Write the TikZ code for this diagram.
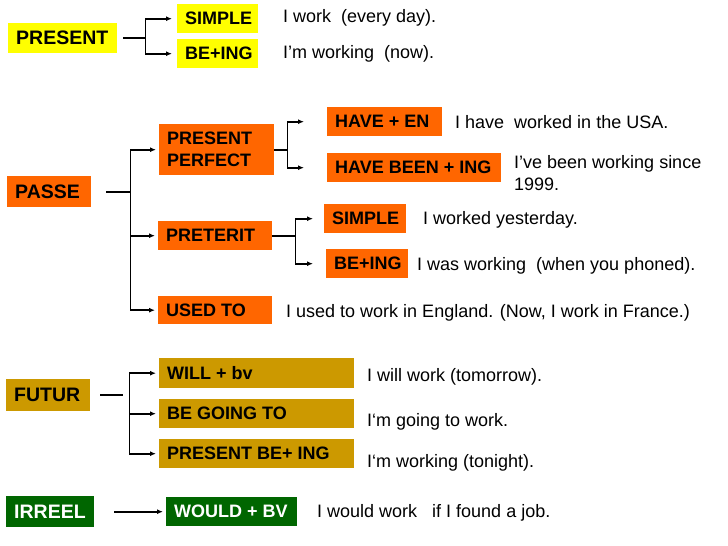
\documentclass[tikz,border=0pt]{standalone}
\usepackage{fontspec}
\setmainfont{Liberation Sans}
\usetikzlibrary{arrows.meta}
\definecolor{cyel}{HTML}{FFFF00}
\definecolor{corg}{HTML}{FF6600}
\definecolor{cgold}{HTML}{CC9900}
\definecolor{cgrn}{HTML}{006600}
\newcommand\mylbox[2]{\makebox[#1][l]{#2}}
\begin{document}
\begin{tikzpicture}[x=1pt,y=-1pt,
  bx/.style={anchor=north west, inner xsep=8pt, inner ysep=0pt,
    font=\bfseries\fontsize{18}{22}\selectfont, text=black},
  mainbx/.style={bx, font=\bfseries\fontsize{19.5}{23}\selectfont},
  yel/.style={fill=cyel}, org/.style={fill=corg}, gld/.style={fill=cgold},
  grn/.style={fill=cgrn, text=white},
  txt/.style={anchor=base west, inner sep=0pt, font=\fontsize{18}{22}\selectfont},
  ln/.style={line width=1.6pt},
  arr/.style={ln, -{Latex[length=6pt,width=5pt]}}]
\useasboundingbox (0,0) rectangle (728,546);

% boxes
\node[mainbx,yel,minimum height=30pt] (present) at (8,23) {\mylbox{93pt}{PRESENT}};
\node[bx,yel,minimum height=29pt] (simpleA) at (177,4) {\mylbox{65pt}{SIMPLE}};
\node[bx,yel,minimum height=29pt] (beingA) at (177,39) {\mylbox{65pt}{BE+ING}};

\node[mainbx,org,minimum height=31pt] (passe) at (7,176) {\mylbox{68pt}{PASSE}};
\node[bx,org,text width=99pt,align=left,minimum height=51pt] (pp) at (159,124) {PRESENT\\PERFECT};
\node[bx,org,minimum height=29pt] (pret) at (158,221) {\mylbox{98pt}{PRETERIT}};
\node[bx,org,minimum height=28pt] (used) at (158,296) {\mylbox{98pt}{USED TO}};
\node[bx,org,minimum height=29pt] (haveen) at (327,107) {\mylbox{99pt}{HAVE + EN}};
\node[bx,org,minimum height=29pt] (havebeen) at (327,153) {\mylbox{158pt}{HAVE BEEN + ING}};
\node[bx,org,minimum height=29pt] (simpleB) at (324,204) {\mylbox{66pt}{SIMPLE}};
\node[bx,org,minimum height=29pt] (beingB) at (326,249) {\mylbox{66pt}{BE+ING}};

\node[mainbx,gld,minimum height=32pt] (futur) at (6,379) {\mylbox{68pt}{FUTUR}};
\node[bx,gld,minimum height=30pt] (will) at (159,358) {\mylbox{179pt}{WILL + bv}};
\node[bx,gld,minimum height=29pt] (going) at (159,399) {\mylbox{179pt}{BE GOING TO}};
\node[bx,gld,minimum height=29pt] (presbe) at (159,439) {\mylbox{179pt}{PRESENT BE+ ING}};

\node[mainbx,grn,minimum height=31pt] (irreel) at (6,496) {\mylbox{72pt}{IRREEL}};
\node[bx,grn,minimum height=29pt] (would) at (166,497) {\mylbox{115pt}{WOULD + BV}};

% connectors: PRESENT
\coordinate (jA) at ([xshift=28pt]present.east);
\draw[ln] ([xshift=6pt]present.east) -- (jA);
\draw[arr,shorten >=5pt] (jA) |- (simpleA.west);
\draw[arr,shorten >=5pt] (jA) |- (beingA.west);

% PASSE
\coordinate (jB) at ([xshift=39pt]passe.east);
\draw[ln] ([xshift=15pt]passe.east) -- (jB);
\draw[arr,shorten >=3pt] (jB) |- (pp.west);
\draw[arr,shorten >=3pt] (jB) |- (pret.west);
\draw[arr,shorten >=3pt] (jB) |- (used.west);

% PRESENT PERFECT
\coordinate (jC) at ([xshift=13pt]pp.east);
\draw[ln] (pp.east) -- (jC);
\draw[arr,shorten >=23pt] (jC) |- (haveen.west);
\draw[arr,shorten >=23pt] (jC) |- (havebeen.west);

% PRETERIT
\coordinate (jD) at ([xshift=23pt]pret.east);
\draw[ln] (pret.east) -- (jD);
\draw[arr,shorten >=11pt] (jD) |- (simpleB.west);
\draw[arr,shorten >=13pt] (jD) |- (beingB.west);

% FUTUR
\coordinate (jE) at ([xshift=39pt]futur.east);
\draw[ln] ([xshift=10pt]futur.east) -- ([xshift=33pt]futur.east);
\draw[arr,shorten >=3pt] (jE) |- (will.west);
\draw[arr,shorten >=3pt] (jE) |- (going.west);
\draw[arr,shorten >=3pt] (jE) |- (presbe.west);

% IRREEL
\draw[arr,shorten >=3pt] ([xshift=20pt]irreel.east) -- (would.west);

% example sentences
\node[txt] (s1) at (283,23) {I work~ (every day).};
\node[txt] (s2) at (283,58) {I’m working~ (now).};
\node[txt] (s3) at (455,128) {I have~ worked in the USA.};
\node[txt] (s4) at (514,168) {I’ve been working since};
\node[txt] (s4b) at (514,190) {1999.};
\node[txt] (s5) at (423,224) {I worked yesterday.};
\node[txt] (s6) at (417,270) {I was working~ (when you phoned).};
\node[txt] (s7) at (286,317) {I used to work in England. (Now, I work in France.)};
\node[txt] (s8) at (367,381) {I will work (tomorrow).};
\node[txt] (s9) at (367,426) {I‘m going to work.};
\node[txt] (s10) at (367,467) {I‘m working (tonight).};
\node[txt] (s11) at (317,517) {I would work~~ if I found a job.};
\end{tikzpicture}
\end{document}
